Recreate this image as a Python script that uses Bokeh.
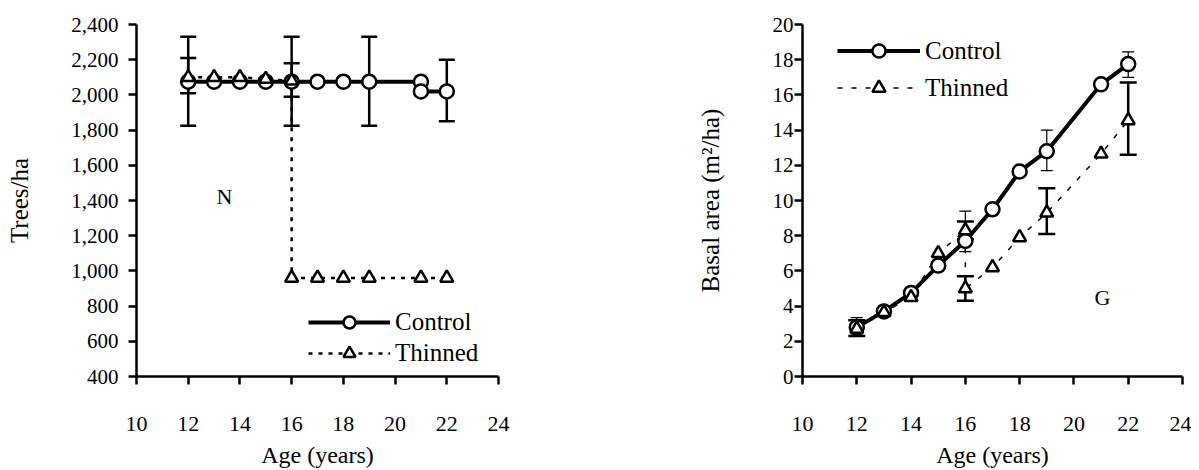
from bokeh.plotting import figure
from bokeh.layouts import row
from bokeh.models import (ColumnDataSource, Whisker, TeeHead, FixedTicker,
                          NumeralTickFormatter, Legend, LegendItem, Label)
from bokeh.embed import file_html
from bokeh.resources import INLINE

FONT = "'Liberation Serif', serif"

# ---------------- Data: left panel (N, trees/ha) ----------------
n_ctrl_age = [12, 13, 14, 15, 16, 17, 18, 19, 21, 21, 22]
n_ctrl_val = [2075, 2075, 2075, 2075, 2075, 2075, 2075, 2075, 2075, 2020, 2020]
n_thin_age = [12, 13, 14, 15, 16, 16, 17, 18, 19, 21, 22]
n_thin_val = [2100, 2100, 2100, 2090, 2080, 960, 960, 960, 960, 960, 960]
n_ctrl_err_age = [12, 16, 19, 22]
n_ctrl_err_lo = [1825, 1825, 1825, 1850]
n_ctrl_err_hi = [2330, 2330, 2330, 2200]
n_thin_err_age = [12, 16]
n_thin_err_lo = [2010, 1990]
n_thin_err_hi = [2210, 2180]

# ---------------- Data: right panel (G, basal area) ----------------
g_ctrl_age = [12, 13, 14, 15, 16, 17, 18, 19, 21, 22]
g_ctrl_val = [2.8, 3.7, 4.75, 6.3, 7.7, 9.5, 11.65, 12.8, 16.6, 17.75]
g_thin_age = [12, 13, 14, 15, 16, 16, 17, 18, 19, 21, 22]
g_thin_val = [2.7, 3.65, 4.5, 7.0, 8.3, 5.0, 6.2, 7.9, 9.3, 12.65, 14.55]
g_ctrl_err_age = [12, 16, 19, 22]
g_ctrl_err_lo = [2.4, 7.1, 11.7, 17.0]
g_ctrl_err_hi = [3.35, 9.4, 14.0, 18.45]
g_thin_err_age = [12, 16, 16, 19, 22]
g_thin_err_lo = [2.3, 7.8, 4.3, 8.1, 12.6]
g_thin_err_hi = [3.2, 8.8, 5.7, 10.7, 16.7]

x_ticks = [10, 12, 14, 16, 18, 20, 22, 24]
n_ticks = [400, 600, 800, 1000, 1200, 1400, 1600, 1800, 2000, 2200, 2400]
g_ticks = [0, 2, 4, 6, 8, 10, 12, 14, 16, 18, 20]


def style_axes(p, ylab, y_ticks, y_standoff, y_label_standoff):
    p.xgrid.visible = False
    p.ygrid.visible = False
    p.outline_line_color = None
    p.background_fill_color = "white"
    p.border_fill_color = "white"
    p.xaxis.ticker = FixedTicker(ticks=x_ticks)
    p.yaxis.ticker = FixedTicker(ticks=y_ticks)
    for ax in (p.xaxis[0], p.yaxis[0]):
        ax.axis_line_width = 2.5
        ax.axis_line_color = "black"
        ax.major_tick_line_width = 2.5
        ax.major_tick_line_color = "black"
        ax.major_tick_out = 8
        ax.major_tick_in = 0
        ax.minor_tick_line_color = None
        ax.major_label_text_font = FONT
        ax.major_label_text_color = "black"
        ax.axis_label_text_font = FONT
        ax.axis_label_text_font_style = "normal"
        ax.axis_label_text_color = "black"
    p.xaxis.axis_label_text_font_size = "24px"
    p.yaxis.axis_label_text_font_size = "25px"
    p.xaxis.major_label_text_font_size = "22px"
    p.yaxis.major_label_text_font_size = "21px"
    p.xaxis.major_label_standoff = 32
    p.xaxis.axis_label_standoff = 8
    p.xaxis.axis_label = "Age (years)"
    p.yaxis.axis_label = ylab
    p.yaxis.major_label_standoff = y_standoff
    p.yaxis.axis_label_standoff = y_label_standoff


def add_whiskers(p, ages, lo, hi, width, cap):
    src = ColumnDataSource(dict(x=ages, lower=lo, upper=hi))
    w = Whisker(base="x", lower="lower", upper="upper", source=src,
                dimension="height", line_width=width, line_color="black",
                level="underlay",
                upper_head=TeeHead(size=cap, line_width=width, line_color="black"),
                lower_head=TeeHead(size=cap, line_width=width, line_color="black"))
    p.add_layout(w)


# ---------------- Left figure ----------------
p1 = figure(width=568, height=470, x_range=(10, 24), y_range=(400, 2400),
            output_backend="svg", toolbar_location=None,
            min_border_left=136, min_border_right=70, min_border_top=24,
            min_border_bottom=94)
style_axes(p1, "Trees/ha", n_ticks, 10, 35)
p1.yaxis.formatter = NumeralTickFormatter(format="0,0")

add_whiskers(p1, n_ctrl_err_age, n_ctrl_err_lo, n_ctrl_err_hi, 2.5, 16)
add_whiskers(p1, n_thin_err_age, n_thin_err_lo, n_thin_err_hi, 2.5, 16)

src_nc = ColumnDataSource(dict(x=n_ctrl_age, y=n_ctrl_val))
src_nt = ColumnDataSource(dict(x=n_thin_age, y=n_thin_val))
l1c = p1.line("x", "y", source=src_nc, line_width=4, line_color="black")
l1t = p1.line("x", "y", source=src_nt, line_width=2.5, line_color="black",
              line_dash="4 6")
s1c = p1.scatter("x", "y", source=src_nc, marker="circle", size=14,
                 fill_color="white", line_color="black", line_width=2.5)
s1t = p1.scatter("x", "y", source=src_nt, marker="triangle", size=13,
                 fill_color="white", line_color="black", line_width=2.5)

p1.add_layout(Label(x=13.4, y=1420, text="N", text_font=FONT,
                    text_font_size="22px", text_align="center",
                    text_baseline="middle", text_color="black"))

leg1 = Legend(items=[LegendItem(label="Control", renderers=[l1c, s1c]),
                     LegendItem(label="Thinned", renderers=[l1t, s1t])],
              location=(172, 8), glyph_width=82, glyph_height=30, spacing=1,
              padding=0, margin=0, label_standoff=5, border_line_color=None,
              background_fill_alpha=0, label_text_font=FONT,
              label_text_font_size="25px", label_text_color="black")
p1.add_layout(leg1)

# ---------------- Right figure ----------------
p2 = figure(width=623, height=470, x_range=(10, 24), y_range=(0, 20),
            output_backend="svg", toolbar_location=None,
            min_border_left=234, min_border_right=9, min_border_top=24,
            min_border_bottom=94)
style_axes(p2, "Basal area (m²/ha)", g_ticks, 1, 46)

add_whiskers(p2, g_ctrl_err_age, g_ctrl_err_lo, g_ctrl_err_hi, 1.2, 12)
add_whiskers(p2, g_thin_err_age, g_thin_err_lo, g_thin_err_hi, 2.5, 17)

src_gc = ColumnDataSource(dict(x=g_ctrl_age, y=g_ctrl_val))
src_gt = ColumnDataSource(dict(x=g_thin_age, y=g_thin_val))
l2c = p2.line("x", "y", source=src_gc, line_width=4, line_color="black")
l2t = p2.line("x", "y", source=src_gt, line_width=1.5, line_color="black",
              line_dash="5 9")
s2c = p2.scatter("x", "y", source=src_gc, marker="circle", size=14,
                 fill_color="white", line_color="black", line_width=2.5)
s2t = p2.scatter("x", "y", source=src_gt, marker="triangle", size=13,
                 fill_color="white", line_color="black", line_width=2.5)

p2.add_layout(Label(x=21.05, y=4.5, text="G", text_font=FONT,
                    text_font_size="22px", text_align="center",
                    text_baseline="middle", text_color="black"))

leg2 = Legend(items=[LegendItem(label="Control", renderers=[l2c, s2c]),
                     LegendItem(label="Thinned", renderers=[l2t, s2t])],
              location=(35, 272), glyph_width=83, glyph_height=33, spacing=4,
              padding=0, margin=0, label_standoff=5, border_line_color=None,
              background_fill_alpha=0, label_text_font=FONT,
              label_text_font_size="25px", label_text_color="black")
p2.add_layout(leg2)

layout = row(p1, p2)
open("out.html", "w").write(file_html(layout, INLINE))
